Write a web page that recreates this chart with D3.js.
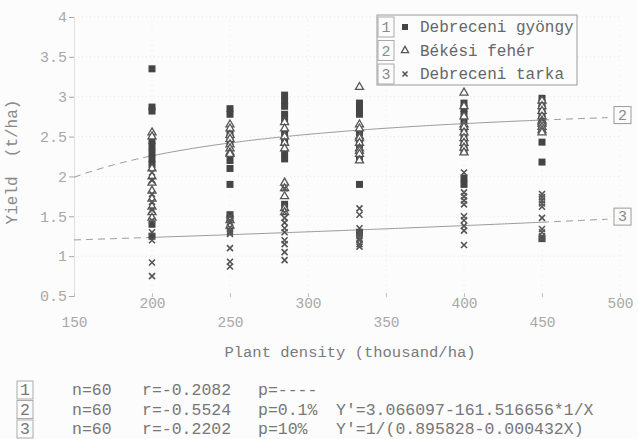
<!DOCTYPE html>
<html>
<head>
<meta charset="utf-8">
<script src="https://cdn.jsdelivr.net/npm/d3@7"></script>
<style>
  body { margin: 0; background: #fcfcfc; }
  text { font-family: "Liberation Mono", "DejaVu Sans Mono", monospace; }
</style>
</head>
<body>
<div id="yieldChart"></div>

<script>
  // Plant densities (thousand/ha) where the plots were sown
  const densities = [200, 250, 285, 333, 400, 450];

  // Yields (t/ha), ten plots per density
  const gyongyYield = [
    [3.35, 2.87, 2.82, 2.45, 2.38, 2.3, 2.22, 2.15, 1.4, 1.25],
    [2.85, 2.78, 2.55, 2.48, 2.42, 2.2, 2.1, 1.9, 1.52, 1.47],
    [3.02, 2.95, 2.88, 2.78, 2.7, 2.55, 2.45, 2.3, 2.22, 1.65],
    [2.92, 2.85, 2.78, 2.55, 2.45, 2.38, 2.3, 2.22, 1.9, 1.3],
    [2.92, 2.85, 2.78, 2.7, 2.6, 2.5, 2.4, 2.32, 1.98, 1.9],
    [2.98, 2.92, 2.85, 2.78, 2.72, 2.65, 2.6, 2.43, 2.18, 1.22]
  ];
  const bekesiYield = [
    [2.55, 2.5, 2.1, 2.0, 1.92, 1.82, 1.72, 1.62, 1.55, 1.48],
    [2.65, 2.6, 2.52, 2.47, 2.4, 2.35, 2.3, 2.28, 1.45, 1.38],
    [2.68, 2.6, 2.5, 2.42, 2.35, 1.92, 1.85, 1.75, 1.6, 1.55],
    [3.12, 2.65, 2.6, 2.5, 2.48, 2.42, 2.35, 2.32, 2.28, 2.2],
    [3.05, 2.88, 2.75, 2.65, 2.62, 2.55, 2.48, 2.42, 2.36, 2.3],
    [2.95, 2.88, 2.82, 2.75, 2.7, 2.68, 2.66, 2.62, 2.58, 2.55]
  ];
  const tarkaYield = [
    [2.05, 1.95, 1.78, 1.68, 1.58, 1.45, 1.3, 1.2, 0.92, 0.75],
    [1.5, 1.45, 1.42, 1.36, 1.32, 1.3, 1.28, 1.1, 0.93, 0.87],
    [1.85, 1.55, 1.48, 1.42, 1.35, 1.3, 1.2, 1.15, 1.05, 0.95],
    [1.6, 1.52, 1.35, 1.3, 1.28, 1.25, 1.22, 1.2, 1.15, 1.12],
    [2.05, 1.8, 1.75, 1.7, 1.65, 1.5, 1.45, 1.38, 1.32, 1.14],
    [1.78, 1.74, 1.7, 1.66, 1.62, 1.48, 1.34, 1.3, 1.25, 1.22]
  ];

  const seriesNames = ["Debreceni gyöngy", "Békési fehér", "Debreceni tarka"];

  // Axis ticks
  const xTicks = [150, 200, 250, 300, 350, 400, 450, 500];
  const yTicks = [0.5, 1, 1.5, 2, 2.5, 3, 3.5, 4];

  // Regression statistics printed under the chart
  const statN = ["n=60", "n=60", "n=60"];
  const statR = ["r=-0.2082", "r=-0.5524", "r=-0.2202"];
  const statP = ["p=----", "p=0.1%", "p=10%"];
  const statEq = ["", "Y'=3.066097-161.516656*1/X", "Y'=1/(0.895828-0.000432X)"];

  // Fitted curve coefficients (series 2 and 3)
  const fit2 = [3.066097, 161.516656];
  const fit3 = [0.895828, 0.000432];

  // Chart dimensions
  const width = 638;
  const height = 439;
  const inkDark = "#454545";
  const inkLight = "#a8a8a8";

  const svg = d3.select("#yieldChart")
    .append("svg")
    .attr("width", width)
    .attr("height", height);

  const x = d3.scaleLinear().domain([150, 500]).range([74, 620]);
  const y = d3.scaleLinear().domain([0.5, 4]).range([296, 17]);

  // faint dotted grid
  svg.append("g")
    .selectAll("line")
    .data(yTicks.slice(1))
    .enter()
    .append("line")
    .attr("x1", x(150)).attr("x2", x(500))
    .attr("y1", d => y(d)).attr("y2", d => y(d))
    .attr("stroke", "#e6e6e6")
    .attr("stroke-dasharray", "1,3");

  svg.append("g")
    .selectAll("line")
    .data(xTicks.slice(1))
    .enter()
    .append("line")
    .attr("x1", d => x(d)).attr("x2", d => x(d))
    .attr("y1", y(0.5)).attr("y2", y(4))
    .attr("stroke", "#ebebeb")
    .attr("stroke-dasharray", "1,4");

  // Y axis
  svg.append("g")
    .attr("transform", `translate(${x(150)},0)`)
    .call(d3.axisLeft(y).tickValues(yTicks).tickSize(5).tickPadding(2).tickFormat(d => d))
    .call(g => g.select(".domain").attr("stroke", "#e0e0e0"))
    .call(g => g.selectAll(".tick line").attr("stroke", inkLight))
    .call(g => g.selectAll(".tick text")
      .attr("font-family", "Liberation Mono")
      .attr("font-size", "15px")
      .attr("fill", inkLight));

  // X axis, labels staggered on two rows
  svg.append("g")
    .attr("transform", `translate(0,${y(0.5) - 3})`)
    .call(d3.axisBottom(x).tickValues(xTicks).tickSize(4).tickPadding(0))
    .call(g => g.select(".domain").remove())
    .call(g => g.selectAll(".tick line").attr("stroke", "#c4c4c4"))
    .call(g => g.selectAll(".tick text")
      .attr("y", (d, i) => i % 2 ? 5 : 24)
      .attr("font-family", "Liberation Mono")
      .attr("font-size", "14.5px")
      .attr("fill", inkLight));

  // Axis titles
  svg.append("text")
    .attr("x", 350)
    .attr("y", 357)
    .attr("text-anchor", "middle")
    .attr("font-size", "15.5px")
    .attr("fill", "#7a7a7a")
    .text("Plant density (thousand/ha)");

  svg.append("text")
    .attr("transform", "translate(17,162) rotate(-90)")
    .attr("text-anchor", "middle")
    .attr("font-size", "16px")
    .attr("fill", "#8a8a8a")
    .attr("xml:space", "preserve")
    .text("Yield  (t/ha)");

  // Fitted curves: dashed outside the measured range, solid inside
  const curve2 = d => fit2[0] - fit2[1] / d;
  const curve3 = d => 1 / (fit3[0] - fit3[1] * d);
  const line = f => d3.line().x(d => x(d)).y(d => y(f(d)));
  const parts = [
    { from: 150, to: 200, dash: "7,5" },
    { from: 200, to: 450, dash: null },
    { from: 450, to: 493, dash: "7,5" }
  ];
  [curve2, curve3].forEach(f => {
    parts.forEach(p => {
      svg.append("path")
        .datum(d3.range(p.from, p.to + 0.1, 2))
        .attr("d", line(f))
        .attr("fill", "none")
        .attr("stroke", "#9a9a9a")
        .attr("stroke-width", 1)
        .attr("stroke-dasharray", p.dash);
    });
  });

  // Right-hand curve labels
  [[curve2, "2"], [curve3, "3"]].forEach(([f, lab]) => {
    const cy = y(f(493)) - 3;
    svg.append("rect")
      .attr("x", 614).attr("y", cy - 8)
      .attr("width", 17).attr("height", 17)
      .attr("fill", "none").attr("stroke", "#9a9a9a");
    svg.append("text")
      .attr("x", 622.5).attr("y", cy + 5)
      .attr("text-anchor", "middle")
      .attr("font-size", "15px")
      .attr("fill", "#8a8a8a")
      .text(lab);
  });

  // Points
  const flat = arr => arr.flatMap((vals, i) => vals.map(v => ({ d: densities[i], v })));
  const marks = svg.append("g");

  marks.selectAll(".sq")
    .data(flat(gyongyYield))
    .enter()
    .append("rect")
    .attr("class", "sq")
    .attr("x", d => x(d.d) - 3.5)
    .attr("y", d => y(d.v) - 3.5)
    .attr("width", 7)
    .attr("height", 7)
    .attr("fill", inkDark);

  const tri = d3.symbol(d3.symbolTriangle, 28)();
  marks.selectAll(".tri")
    .data(flat(bekesiYield))
    .enter()
    .append("path")
    .attr("class", "tri")
    .attr("transform", d => `translate(${x(d.d)},${y(d.v)})`)
    .attr("d", tri)
    .attr("fill", "#ffffff")
    .attr("stroke", "#555")
    .attr("stroke-width", 1.3);

  const cross = "M-3,-3L3,3M-3,3L3,-3";
  marks.selectAll(".cr")
    .data(flat(tarkaYield))
    .enter()
    .append("path")
    .attr("class", "cr")
    .attr("transform", d => `translate(${x(d.d)},${y(d.v)})`)
    .attr("d", cross)
    .attr("fill", "none")
    .attr("stroke", "#555")
    .attr("stroke-width", 1.6);

  // Legend
  const legend = svg.append("g").attr("transform", "translate(377,15)");
  legend.append("rect")
    .attr("width", 200).attr("height", 70)
    .attr("fill", "#fcfcfc").attr("stroke", "#9a9a9a");

  seriesNames.forEach((name, i) => {
    const cy = 12 + i * 23.5;
    legend.append("rect")
      .attr("x", 1).attr("y", cy - 10)
      .attr("width", 16).attr("height", 20)
      .attr("fill", "none").attr("stroke", "#aaa");
    legend.append("text")
      .attr("x", 9).attr("y", cy + 5)
      .attr("text-anchor", "middle")
      .attr("font-size", "15px")
      .attr("fill", "#8a8a8a")
      .text(i + 1);
    const g = legend.append("g").attr("transform", `translate(28,${cy})`);
    if (i === 0) g.append("rect").attr("x", -3).attr("y", -3).attr("width", 6).attr("height", 6).attr("fill", inkDark);
    if (i === 1) g.append("path").attr("d", d3.symbol(d3.symbolTriangle, 22)()).attr("fill", "#fff").attr("stroke", "#555").attr("stroke-width", 1.3);
    if (i === 2) g.append("path").attr("d", "M-2.5,-2.5L2.5,2.5M-2.5,2.5L2.5,-2.5").attr("stroke", "#555").attr("stroke-width", 1.6);
    legend.append("text")
      .attr("x", 43).attr("y", cy + 5)
      .attr("font-size", "16px")
      .attr("fill", "#666")
      .text(name);
  });

  // Statistics block
  const stats = svg.append("g");
  statN.forEach((n, i) => {
    const cy = 390 + i * 19.5;
    stats.append("rect")
      .attr("x", 17).attr("y", cy - 9)
      .attr("width", 16).attr("height", 18)
      .attr("fill", "none").attr("stroke", "#aaa");
    const cells = [[25, String(i + 1), "middle"], [72, n], [142, statR[i]], [258, statP[i]], [336, statEq[i]]];
    cells.forEach(([cx, t, anchor]) => {
      stats.append("text")
        .attr("x", cx).attr("y", cy + 5)
        .attr("text-anchor", anchor || "start")
        .attr("font-size", "16.5px")
        .attr("fill", "#777")
        .text(t);
    });
  });
</script>
</body>
</html>
